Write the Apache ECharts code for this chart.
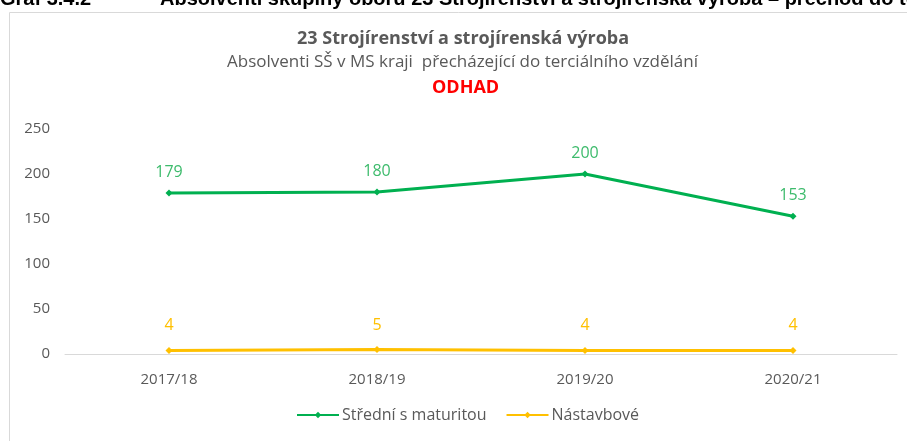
<!DOCTYPE html>
<html>
<head>
<meta charset="utf-8">
<script src="https://cdn.jsdelivr.net/npm/echarts@6/dist/echarts.min.js"></script>
<style>
  html, body { margin: 0; padding: 0; background: #fff; }
  #main { width: 907px; height: 441px; }
</style>
</head>
<body>
<div id="main"></div>
<script>
// kategorie (školní roky)
var years = ['2017/18', '2018/19', '2019/20', '2020/21'];
// hodnoty
var maturita = [179, 180, 200, 153];
var nastavbove = [4, 5, 4, 4];
var yTicks = [0, 50, 100, 150, 200, 250];

var name1 = 'Střední s maturitou';
var name2 = 'Nástavbové';
var green = '#00B050';
var yellow = '#FFC000';
var font = '"Open Sans", sans-serif';
var capFont = '"Liberation Sans", Arial, sans-serif';

var myChart = echarts.init(document.getElementById('main'));

var option = {
    animation: false,
    textStyle: { fontFamily: font },
    title: [
        {   // hlavní nadpis
            text: '23 Strojírenství a strojírenská výroba',
            left: 297, top: 30, padding: 0,
            textStyle: { fontSize: 18, fontWeight: 'bold', color: '#595959', fontFamily: font }
        },
        {
            text: 'Absolventi SŠ v MS kraji  přecházející do terciálního vzdělání',
            left: 227, top: 54, padding: 0,
            textStyle: { fontSize: 17, fontWeight: 'normal', color: '#595959', fontFamily: font }
        },
        {
            text: 'ODHAD',
            left: 432, top: 79, padding: 0,
            textStyle: { fontSize: 18, fontWeight: 'bold', color: '#FF0000', fontFamily: font }
        }
    ],
    graphic: [
        {   // rámeček grafu
            type: 'rect',
            shape: { x: 9.5, y: 12.5, width: 1000, height: 1000 },
            style: { fill: null, stroke: '#d9d9d9', lineWidth: 1 },
            silent: true
        },
        {   // oříznutý popisek nad grafem
            type: 'text',
            left: 0, top: -11,
            style: { text: 'Graf 3.4.2', font: 'bold 20px ' + capFont, fill: '#000' },
            silent: true
        },
        {
            type: 'text',
            left: 160, top: -11,
            style: {
                text: 'Absolventi skupiny oborů 23 Strojírenství a strojírenská výroba – přechod do terciálního vzdělání',
                font: 'bold 20px ' + capFont,
                fill: '#000'
            },
            silent: true
        }
    ],
    legend: {
        bottom: 13,
        left: 291,
        itemGap: 19,
        itemWidth: 42,
        itemHeight: 8,
        textStyle: { fontSize: 16, color: '#595959', fontFamily: font, padding: [0, 0, 0, -2] },
        data: [name1, name2]
    },
    grid: {
        left: 65,
        right: 10,
        top: 129,
        bottom: 87
    },
    xAxis: {
        type: 'category',
        data: years,
        boundaryGap: true,
        axisLine: { lineStyle: { color: '#d9d9d9', width: 1 } },
        axisTick: { show: false },
        axisLabel: { color: '#595959', fontSize: 15, margin: 18 }
    },
    yAxis: {
        type: 'value',
        min: yTicks[0],
        max: yTicks[yTicks.length - 1],
        interval: 50,
        axisLine: { show: false },
        axisTick: { show: false },
        splitLine: { show: false },
        axisLabel: { color: '#595959', fontSize: 15, margin: 15 }
    },
    series: [
        {
            name: name1,
            type: 'line',
            data: maturita,
            symbol: 'diamond',
            symbolSize: 7,
            lineStyle: { color: green, width: 3 },
            itemStyle: { color: green },
            label: {
                show: true, position: 'top', distance: 9,
                color: '#3dbb6c', fontSize: 16
            },
            z: 3
        },
        {
            name: name2,
            type: 'line',
            data: nastavbove,
            symbol: 'diamond',
            symbolSize: 7,
            lineStyle: { color: yellow, width: 3 },
            itemStyle: { color: yellow },
            label: {
                show: true, position: 'top', distance: 13,
                color: '#ffc000', fontSize: 16
            },
            z: 2
        }
    ]
};

myChart.setOption(option);
</script>
</body>
</html>
